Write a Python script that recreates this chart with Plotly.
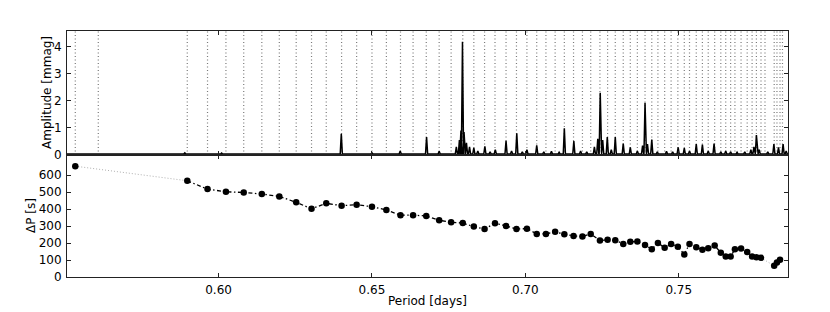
import plotly.graph_objects as go

# periods of the identified modes (days) and the period spacing to the next mode (s)
period = [0.5533, 0.5898, 0.5964, 0.6024, 0.6082, 0.6141, 0.6198, 0.6253, 0.6303, 0.6351,
          0.6401, 0.6450, 0.6500, 0.6547, 0.6593, 0.6634, 0.6677, 0.6719, 0.6758, 0.6796,
          0.6832, 0.6867, 0.6901, 0.6937, 0.6971, 0.7005, 0.7037, 0.7067, 0.7097, 0.7127,
          0.7157, 0.7186, 0.7213, 0.7243, 0.7268, 0.7293, 0.7319, 0.7342, 0.7365, 0.7390,
          0.7412, 0.7432, 0.7454, 0.7475, 0.7497, 0.7518, 0.7535, 0.7557, 0.7577, 0.7596,
          0.7617, 0.7637, 0.7653, 0.7669, 0.7683, 0.7703, 0.7723, 0.7739, 0.7753, 0.7768,
          0.7811, 0.7820, 0.7830]
delta_p = [653, 567, 518, 502, 498, 489, 475, 440, 402, 434,
           420, 426, 414, 395, 364, 364, 360, 334, 323, 318,
           297, 283, 317, 301, 283, 285, 254, 254, 266, 252,
           242, 238, 254, 215, 219, 217, 195, 207, 209, 188,
           164, 201, 172, 195, 178, 133, 195, 176, 160, 170,
           185, 143, 121, 121, 164, 168, 147, 121, 117, 113,
           66, 86, 101]
# points where the sequence has a missing mode (connected by a faint dotted line)
gap_after = [0, 59]
# extra mode periods shown only as vertical markers
extra_periods = [0.5608, 0.7781, 0.7838]

# peaks of the amplitude spectrum: period (days), amplitude (mmag)
peak_period = [0.5620, 0.5890, 0.6010, 0.6210, 0.6400, 0.6500, 0.6592, 0.6678, 0.6719,
               0.6775, 0.6785, 0.6790, 0.6795, 0.6800, 0.6808, 0.6818, 0.6832, 0.6845,
               0.6868, 0.6885, 0.6902, 0.6937, 0.6955, 0.6972, 0.6990, 0.7005, 0.7037,
               0.7060, 0.7085, 0.7110, 0.7127, 0.7158, 0.7180, 0.7200, 0.7225, 0.7236,
               0.7244, 0.7252, 0.7267, 0.7280, 0.7293, 0.7319, 0.7342, 0.7365, 0.7382,
               0.7390, 0.7398, 0.7412, 0.7430, 0.7460, 0.7480, 0.7498, 0.7518, 0.7535,
               0.7557, 0.7577, 0.7596, 0.7615, 0.7637, 0.7653, 0.7669, 0.7690, 0.7715,
               0.7735, 0.7745, 0.7753, 0.7762, 0.7790, 0.7810, 0.7825, 0.7840, 0.7850]
peak_amp = [0.06, 0.08, 0.07, 0.06, 0.78, 0.08, 0.15, 0.66, 0.14,
            0.30, 0.55, 0.90, 4.18, 0.85, 0.45, 0.30, 0.26, 0.15,
            0.32, 0.12, 0.20, 0.52, 0.15, 0.80, 0.12, 0.20, 0.36,
            0.12, 0.14, 0.10, 0.99, 0.51, 0.15, 0.12, 0.30, 0.60,
            2.30, 0.55, 0.66, 0.20, 0.66, 0.42, 0.28, 0.15, 0.35,
            1.93, 0.40, 0.57, 0.12, 0.14, 0.12, 0.28, 0.25, 0.15,
            0.40, 0.38, 0.15, 0.42, 0.12, 0.15, 0.12, 0.10, 0.12,
            0.20, 0.30, 0.74, 0.20, 0.12, 0.40, 0.28, 0.40, 0.15]
noise_level = 0.035

x_range = [0.5506, 0.7856]
amp_top = 4.58
dp_top = 719

# spectrum as narrow spikes on the noise floor
half_w = 0.00035
spec_x = [x_range[0]]
spec_y = [noise_level]
for p, a in zip(peak_period, peak_amp):
    spec_x += [p - half_w, p, p + half_w]
    spec_y += [noise_level, a, noise_level]
spec_x.append(x_range[1])
spec_y.append(noise_level)

# vertical marker lines at every mode period
vl_x, vl_y = [], []
for p in sorted(period + extra_periods):
    vl_x += [p, p, None]
    vl_y += [0, amp_top, None]

# dash-dot line broken at the gaps
line_x, line_y = [], []
for i, (p, d) in enumerate(zip(period, delta_p)):
    line_x.append(p)
    line_y.append(d)
    if i in gap_after:
        line_x.append(None)
        line_y.append(None)
gap_x, gap_y = [], []
for i in gap_after:
    gap_x += [period[i], period[i + 1], None]
    gap_y += [delta_p[i], delta_p[i + 1], None]

fig = go.Figure()
fig.add_trace(go.Scatter(x=vl_x, y=vl_y, mode="lines", xaxis="x", yaxis="y",
                         line=dict(color="#7a7a7a", width=1.2, dash="1px,2.5px"), hoverinfo="skip"))
fig.add_trace(go.Scatter(x=spec_x, y=spec_y, mode="lines", xaxis="x", yaxis="y",
                         line=dict(color="black", width=1.5)))
fig.add_trace(go.Scatter(x=gap_x, y=gap_y, mode="lines", xaxis="x2", yaxis="y2",
                         line=dict(color="#b0b0b0", width=1, dash="1px,2px")))
fig.add_trace(go.Scatter(x=line_x, y=line_y, mode="lines", xaxis="x2", yaxis="y2",
                         line=dict(color="black", width=1.3, dash="4px,2.5px,1.5px,2.5px")))
fig.add_trace(go.Scatter(x=period, y=delta_p, mode="markers", xaxis="x2", yaxis="y2",
                         marker=dict(color="black", size=6.5)))

font = dict(family="DejaVu Sans", size=12, color="black")
axis_common = dict(showgrid=False, zeroline=False, showline=True, linecolor="#222",
                   linewidth=1, mirror="ticks", ticks="inside", ticklen=4,
                   tickcolor="#222", tickfont=font)
tickvals_x = [0.60, 0.65, 0.70, 0.75]

# the page body adds an 8 px offset, so margins are shifted to compensate
fig.update_layout(
    width=830, height=312,
    margin=dict(l=59, r=50, t=23, b=43),
    paper_bgcolor="white", plot_bgcolor="white",
    showlegend=False,
    xaxis=dict(axis_common, domain=[0, 1], range=x_range, anchor="y",
               tickvals=tickvals_x, showticklabels=False),
    yaxis=dict(axis_common, domain=[0.496, 1], range=[0, amp_top], anchor="x",
               tickvals=[0, 1, 2, 3, 4], ticklabelstandoff=2),
    xaxis2=dict(axis_common, domain=[0, 1], range=x_range, anchor="y2",
                tickvals=tickvals_x, ticktext=["0.60", "0.65", "0.70", "0.75"],
                ticklabelstandoff=2),
    yaxis2=dict(axis_common, domain=[0, 0.496], range=[0, dp_top], anchor="x2",
                tickvals=[0, 100, 200, 300, 400, 500, 600], ticklabelstandoff=2),
    annotations=[
        dict(text="Amplitude [mmag]", xref="paper", yref="paper", x=0, y=0.748,
             xshift=-20, textangle=-90, showarrow=False, font=font,
             xanchor="center", yanchor="middle"),
        dict(text="ΔP [s]", xref="paper", yref="paper", x=0, y=0.248,
             xshift=-36, textangle=-90, showarrow=False, font=font,
             xanchor="center", yanchor="middle"),
        dict(text="Period [days]", xref="paper", yref="paper", x=0.5, y=0,
             yshift=-24, showarrow=False, font=font,
             xanchor="center", yanchor="middle"),
    ],
)

fig.write_html("out.html")
